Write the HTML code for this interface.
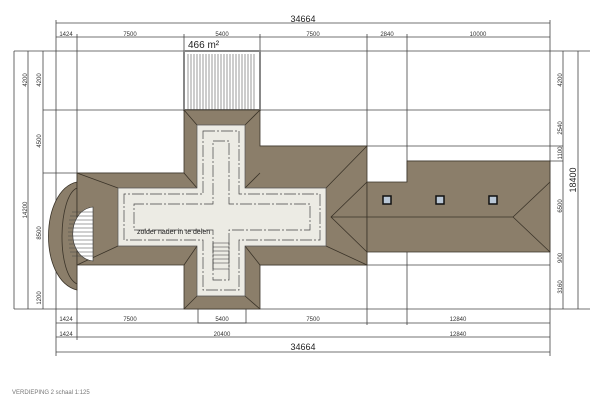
<!DOCTYPE html>
<html><head><style>html,body{margin:0;padding:0;background:#fff}svg{display:block}</style></head><body>
<svg width="600" height="400" viewBox="0 0 600 400" xmlns="http://www.w3.org/2000/svg" font-family="Liberation Sans, sans-serif">
<g stroke="#444" stroke-width="0.8" fill="none">
<!-- grid lines -->
<line x1="14" y1="51" x2="590" y2="51"/>
<line x1="43" y1="110" x2="550" y2="110"/>
<line x1="43" y1="173" x2="184" y2="173"/>
<line x1="260" y1="146" x2="563" y2="146"/>
<line x1="407" y1="161" x2="563" y2="161"/>
<line x1="260" y1="265" x2="550" y2="265"/>
<line x1="14" y1="309" x2="590" y2="309"/>
<line x1="56" y1="20" x2="56" y2="356"/>
<line x1="77" y1="34" x2="77" y2="340"/>
<line x1="184" y1="34" x2="184" y2="110"/>
<line x1="260" y1="34" x2="260" y2="110"/>
<line x1="367" y1="34" x2="367" y2="146"/>
<line x1="407" y1="34" x2="407" y2="182"/>
<line x1="550" y1="20" x2="550" y2="356"/>
<line x1="367" y1="252" x2="367" y2="325"/>
<line x1="407" y1="252" x2="407" y2="325"/>
<!-- dim lines -->
<line x1="56" y1="23" x2="550" y2="23"/>
<line x1="56" y1="37" x2="550" y2="37"/>
<line x1="56" y1="323" x2="550" y2="323"/>
<line x1="56" y1="337" x2="550" y2="337"/>
<line x1="56" y1="352" x2="550" y2="352"/>
<line x1="14" y1="51" x2="14" y2="309"/>
<line x1="28" y1="51" x2="28" y2="309"/>
<line x1="43" y1="51" x2="43" y2="309"/>
<line x1="563" y1="51" x2="563" y2="309"/>
<line x1="578" y1="51" x2="578" y2="309"/>
<rect x="198" y="309" width="48" height="14"/>
</g>
<!-- hatched deck -->
<rect x="184" y="51" width="76" height="59" fill="#fff" stroke="#888" stroke-width="2"/>
<g stroke="#555" stroke-width="0.6">
<line x1="188" y1="54" x2="188" y2="110"/><line x1="191" y1="54" x2="191" y2="110"/><line x1="194" y1="54" x2="194" y2="110"/><line x1="197" y1="54" x2="197" y2="110"/><line x1="200" y1="54" x2="200" y2="110"/><line x1="203" y1="54" x2="203" y2="110"/><line x1="206" y1="54" x2="206" y2="110"/><line x1="209" y1="54" x2="209" y2="110"/><line x1="212" y1="54" x2="212" y2="110"/><line x1="215" y1="54" x2="215" y2="110"/><line x1="218" y1="54" x2="218" y2="110"/><line x1="221" y1="54" x2="221" y2="110"/><line x1="224" y1="54" x2="224" y2="110"/><line x1="227" y1="54" x2="227" y2="110"/><line x1="230" y1="54" x2="230" y2="110"/><line x1="233" y1="54" x2="233" y2="110"/><line x1="236" y1="54" x2="236" y2="110"/><line x1="239" y1="54" x2="239" y2="110"/><line x1="242" y1="54" x2="242" y2="110"/><line x1="245" y1="54" x2="245" y2="110"/><line x1="248" y1="54" x2="248" y2="110"/><line x1="251" y1="54" x2="251" y2="110"/><line x1="254" y1="54" x2="254" y2="110"/>
</g>
<!-- roofs -->
<g fill="#8b7e6a" stroke="#3a3328" stroke-width="0.8">
<path d="M77,182 C40,190 38,280 77,290 L77,182Z"/>
<path d="M184,110 H260 V146 H367 V265 H260 V309 H184 V265 H77 V173 H184Z"/>
<path d="M407,161 H550 V252 H367 V182 H407Z"/>
<path d="M367,182 L331,217 L367,252 M331,217 H513 L550,182 M513,217 L550,252" fill="none"/>
<path d="M184,110 L197,125 M260,110 L245,125 M184,173 L197,188 M260,173 L245,188 M77,173 L118,188 M367,146 L326,188 M77,265 L118,246 M367,265 L326,246 M184,265 L197,246 M260,265 L245,246 M184,309 L197,296 M260,309 L245,296" fill="none"/>
</g>
<path d="M77,188 C58,196 56,274 77,284" fill="none" stroke="#3a3328" stroke-width="0.8"/>
<path d="M93,207 C66,210 66,258 93,261Z" fill="#fff" stroke="#333" stroke-width="0.6"/>
<g stroke="#444" stroke-width="0.5">
<line x1="72" y1="212" x2="93" y2="212"/><line x1="70" y1="216" x2="93" y2="216"/><line x1="69" y1="220" x2="93" y2="220"/><line x1="69" y1="224" x2="93" y2="224"/><line x1="68" y1="228" x2="93" y2="228"/><line x1="68" y1="232" x2="93" y2="232"/><line x1="68" y1="236" x2="93" y2="236"/><line x1="68" y1="240" x2="93" y2="240"/><line x1="69" y1="244" x2="93" y2="244"/><line x1="69" y1="248" x2="93" y2="248"/><line x1="70" y1="252" x2="93" y2="252"/><line x1="72" y1="256" x2="93" y2="256"/>
</g>
<!-- light interior -->
<path d="M197,125 H245 V188 H326 V246 H245 V296 H197 V246 H118 V188 H197Z" fill="#ecebe4" stroke="#555" stroke-width="0.7"/>
<path d="M203,131 H239 V194 H320 V240 H239 V290 H203 V240 H124 V194 H203Z" fill="none" stroke="#444" stroke-width="0.7" stroke-dasharray="12,2,2,2"/>
<path d="M213,141 H229 V204 H310 V230 H229 V280 H213 V230 H134 V204 H213Z" fill="none" stroke="#444" stroke-width="0.7" stroke-dasharray="12,2,2,2"/>
<g stroke="#333" stroke-width="0.5"><rect x="213" y="243" width="16" height="26" fill="none"/>
<line x1="213" y1="247" x2="229" y2="247"/><line x1="213" y1="251" x2="229" y2="251"/><line x1="213" y1="255" x2="229" y2="255"/><line x1="213" y1="259" x2="229" y2="259"/><line x1="213" y1="263" x2="229" y2="263"/></g>
<text x="137" y="234" font-size="7" fill="#222">zolder nader in te delen</text>
<!-- windows -->
<g fill="#b9c7d6" stroke="#111" stroke-width="1.5"><rect x="383" y="196" width="8" height="8"/><rect x="436" y="196" width="8" height="8"/><rect x="489" y="196" width="8" height="8"/></g>
<!-- labels -->
<g font-size="6" fill="#333" text-anchor="middle">
<text x="66" y="36">1424</text><text x="130" y="36">7500</text><text x="222" y="36">5400</text><text x="313" y="36">7500</text><text x="387" y="36">2840</text><text x="478" y="36">10000</text>
<text x="66" y="321">1424</text><text x="130" y="321">7500</text><text x="222" y="321">5400</text><text x="313" y="321">7500</text><text x="458" y="321">12840</text>
<text x="66" y="336">1424</text><text x="222" y="336">20400</text><text x="458" y="336">12840</text>
</g>
<text x="303" y="22" font-size="9" fill="#222" text-anchor="middle">34664</text>
<text x="303" y="350" font-size="9" fill="#222" text-anchor="middle">34664</text>
<text x="188" y="48" font-size="10" fill="#222">466 m²</text>
<g font-size="6" fill="#333" text-anchor="middle">
<text transform="translate(27,80) rotate(-90)">4200</text><text transform="translate(41,80) rotate(-90)">4200</text>
<text transform="translate(41,141) rotate(-90)">4500</text><text transform="translate(27,210) rotate(-90)">14200</text>
<text transform="translate(41,233) rotate(-90)">8500</text><text transform="translate(41,298) rotate(-90)">1200</text>
<text transform="translate(562,80) rotate(-90)">4200</text><text transform="translate(562,128) rotate(-90)">2540</text>
<text transform="translate(562,153) rotate(-90)">1100</text><text transform="translate(562,206) rotate(-90)">6500</text>
<text transform="translate(562,258) rotate(-90)">900</text><text transform="translate(562,287) rotate(-90)">3160</text>
</g>
<text transform="translate(576,180) rotate(-90)" font-size="9" fill="#222" text-anchor="middle">18400</text>
<text x="12" y="394" font-size="6" fill="#777">VERDIEPING 2 schaal 1:125</text>
</svg>
</body></html>
